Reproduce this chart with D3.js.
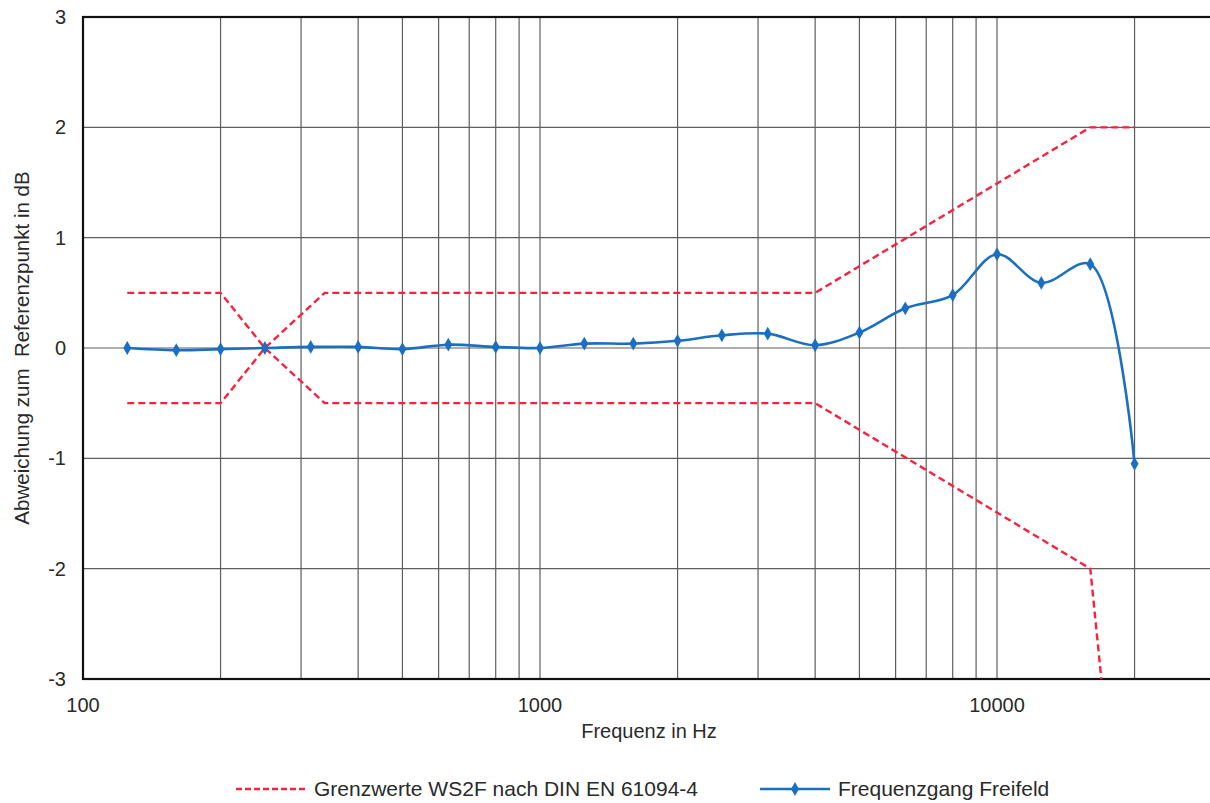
<!DOCTYPE html>
<html>
<head>
<meta charset="utf-8">
<script src="https://cdn.jsdelivr.net/npm/d3@7"></script>
<style>
  body { margin: 0; overflow: hidden; background: #fff; }
  svg { display: block; font-family: "Liberation Sans", Arial, sans-serif; }
</style>
</head>
<body>
<svg id="chart" width="1210" height="803"></svg>
<script>
// Terzband-Frequenzen und gemessener Frequenzgang (dB)
const freqs = [125, 160, 200, 250, 315, 400, 500, 630, 800, 1000, 1250, 1600, 2000,
               2500, 3150, 4000, 5000, 6300, 8000, 10000, 12500, 16000, 20000];
const response = [0.00, -0.02, -0.01, 0.00, 0.01, 0.01, -0.01, 0.03, 0.01, 0.00, 0.04, 0.04, 0.065,
                  0.115, 0.13, 0.025, 0.14, 0.36, 0.48, 0.85, 0.59, 0.76, -1.05];

// Grenzwerte (zwei Linien)
const limitAFreq = [125, 200, 250, 338, 4000, 16000, 20000];
const limitAVal  = [0.5, 0.5, 0, -0.5, -0.5, -2, -6];
const limitBFreq = [125, 200, 250, 338, 4000, 16000, 20000];
const limitBVal  = [-0.5, -0.5, 0, 0.5, 0.5, 2, 2];

const yTicks = [-3, -2, -1, 0, 1, 2, 3];
const xLabels = [100, 1000, 10000];
const xGrid = [200, 300, 400, 500, 600, 700, 800, 900, 1000,
               2000, 3000, 4000, 5000, 6000, 7000, 8000, 9000, 10000, 20000];

const svg = d3.select("#chart");

const plotLeft = 83, plotTop = 17, plotBottom = 679;
const decade = 457;
const x = d3.scaleLog().domain([100, 30000]).range([plotLeft, plotLeft + decade * Math.log10(300)]);
const y = d3.scaleLinear().domain([-3, 3]).range([plotBottom, plotTop]);
const plotRight = x.range()[1];

const blue = "#1b6fc2";
const red = "#f8223f";
const textCol = "#2a2a2a";

svg.append("clipPath").attr("id", "plotclip")
  .append("rect")
  .attr("x", plotLeft).attr("y", plotTop)
  .attr("width", plotRight - plotLeft).attr("height", plotBottom - plotTop);

// Gitter
svg.append("g").selectAll("line").data(xGrid).join("line")
  .attr("x1", d => x(d)).attr("x2", d => x(d))
  .attr("y1", plotTop).attr("y2", plotBottom)
  .attr("stroke", "#5e5e5e").attr("stroke-width", 1.2);

svg.append("g").selectAll("line").data(yTicks).join("line")
  .attr("x1", plotLeft).attr("x2", plotRight)
  .attr("y1", d => y(d)).attr("y2", d => y(d))
  .attr("stroke", "#5e5e5e").attr("stroke-width", 1.2);

// Rahmen
svg.append("rect")
  .attr("x", plotLeft).attr("y", plotTop)
  .attr("width", plotRight - plotLeft).attr("height", plotBottom - plotTop)
  .attr("fill", "none").attr("stroke", "#111").attr("stroke-width", 2.2);

// Achsenbeschriftung
svg.append("g").selectAll("text").data(yTicks).join("text")
  .attr("x", 66).attr("y", d => y(d) + 7)
  .attr("text-anchor", "end")
  .attr("font-size", 20).attr("fill", textCol)
  .text(d => d);

svg.append("g").selectAll("text").data(xLabels).join("text")
  .attr("x", d => x(d)).attr("y", 712)
  .attr("text-anchor", "middle")
  .attr("font-size", 20).attr("fill", textCol)
  .text(d => d);

svg.append("text")
  .attr("x", 649).attr("y", 738)
  .attr("text-anchor", "middle")
  .attr("font-size", 20).attr("fill", textCol)
  .text("Frequenz in Hz");

svg.append("text")
  .attr("transform", `translate(29,${(plotTop + plotBottom) / 2}) rotate(-90)`)
  .attr("text-anchor", "middle")
  .attr("font-size", 20.5).attr("fill", textCol)
  .style("white-space", "pre")
  .text("Abweichung zum  Referenzpunkt in dB");

// Grenzwerte
const plot = svg.append("g").attr("clip-path", "url(#plotclip)");
const limitLine = d3.line().x(d => x(d[0])).y(d => y(d[1]));
[[limitAFreq, limitAVal], [limitBFreq, limitBVal]].forEach(([f, v]) => {
  plot.append("path")
    .datum(f.map((fr, i) => [fr, v[i]]))
    .attr("d", limitLine)
    .attr("fill", "none")
    .attr("stroke", red).attr("stroke-width", 2.4)
    .attr("stroke-dasharray", "7,4");
});

// Frequenzgang
const respData = freqs.map((f, i) => [f, response[i]]);
plot.append("path")
  .datum(respData)
  .attr("d", d3.line().x(d => x(d[0])).y(d => y(d[1])).curve(d3.curveCatmullRom.alpha(0.5)))
  .attr("fill", "none")
  .attr("stroke", blue).attr("stroke-width", 2.6);

const diamond = d3.symbol().type(d3.symbolDiamond).size(55);
plot.selectAll(".pt").data(respData).join("path")
  .attr("class", "pt")
  .attr("transform", d => `translate(${x(d[0])},${y(d[1])})`)
  .attr("d", diamond)
  .attr("fill", blue);

// Legende
const legY = 789;
svg.append("line")
  .attr("x1", 236).attr("x2", 305).attr("y1", legY).attr("y2", legY)
  .attr("stroke", red).attr("stroke-width", 2.4).attr("stroke-dasharray", "6,3");
svg.append("text")
  .attr("x", 314).attr("y", legY + 7)
  .attr("font-size", 21).attr("fill", textCol)
  .text("Grenzwerte WS2F nach DIN EN 61094-4");

svg.append("line")
  .attr("x1", 760).attr("x2", 830).attr("y1", legY).attr("y2", legY)
  .attr("stroke", blue).attr("stroke-width", 2.6);
svg.append("path")
  .attr("transform", `translate(795,${legY})`)
  .attr("d", diamond)
  .attr("fill", blue);
svg.append("text")
  .attr("x", 838).attr("y", legY + 7)
  .attr("font-size", 21).attr("fill", textCol)
  .text("Frequenzgang Freifeld");
</script>
</body>
</html>
